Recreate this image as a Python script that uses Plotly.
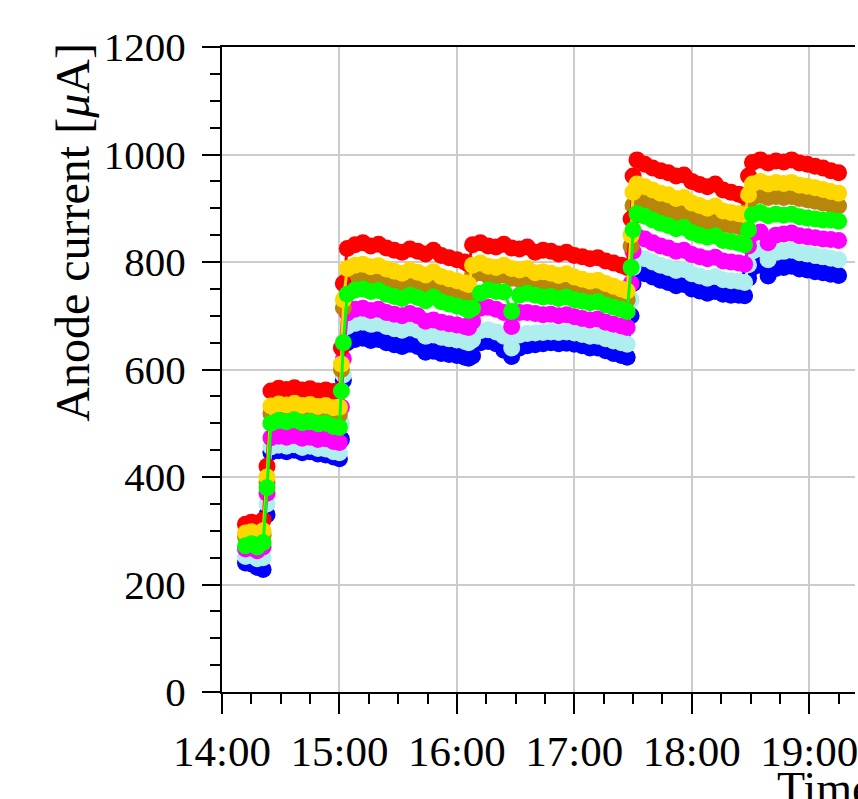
import pandas as pd
import plotly.graph_objects as go

# time of each sample, minutes after 14:00
minutes = [12, 15, 18, 21,
           23,
           25, 29, 33, 37, 41, 45, 49, 53, 57, 60,
           61, 62,
           64, 68, 72, 76, 80, 84, 88, 92, 96, 100, 104, 108, 112, 116, 120, 124, 126,
           128, 132, 136, 140, 144, 148, 152, 156, 160, 164, 168, 172, 176, 180, 184, 188, 192, 196, 200, 204, 207,
           209, 210,
           212, 216, 220, 224, 228, 232, 236, 240, 244, 248, 252, 256, 260, 264, 267,
           269,
           271, 275, 279, 283, 287, 291, 295, 299, 303, 307, 311, 315]

red = [312, 316, 314, 320,
       420,
       560, 565, 563, 566, 562, 564, 560, 562, 559, 561,
       640, 760,
       825, 832, 836, 830, 833, 826, 822, 818, 824, 820, 815, 822, 812, 808, 804, 800, 796,
       832, 836, 830, 828, 833, 826, 824, 828, 818, 822, 820, 815, 818, 812, 810, 806, 808, 802, 798, 794, 790,
       880, 960,
       990, 982, 975, 970, 966, 960, 962, 950, 944, 940, 945, 934, 930, 926, 922,
       960,
       985, 990, 984, 988, 986, 990, 984, 982, 978, 975, 970, 966]

gold = [296, 298, 295, 300,
        400,
        532, 536, 534, 537, 533, 535, 531, 533, 529, 530,
        610, 730,
        788, 794, 796, 791, 793, 787, 783, 779, 785, 781, 776, 782, 773, 769, 765, 761, 758,
        794, 798, 792, 790, 794, 788, 785, 788, 780, 782, 779, 775, 778, 772, 768, 764, 766, 760, 755, 750, 746,
        850, 930,
        945, 940, 934, 928, 925, 918, 920, 910, 905, 900, 904, 895, 892, 890, 888,
        925,
        945, 950, 945, 948, 946, 948, 943, 941, 938, 935, 931, 928]

goldenrod = [289, 291, 288, 292,
             390,
             518, 522, 520, 523, 519, 521, 517, 519, 515, 516,
             600, 715,
             768, 774, 776, 771, 773, 767, 763, 760, 765, 761, 756, 762, 753, 749, 745, 741, 738,
             776, 780, 774, 772, 776, 770, 767, 770, 762, 764, 760, 757, 760, 754, 750, 746, 748, 742, 738, 734, 730,
             830, 905,
             918, 912, 906, 900, 897, 891, 893, 884, 879, 875, 878, 870, 868, 866, 864,
             900,
             920, 924, 920, 922, 920, 922, 918, 916, 913, 910, 907, 904]

green = [272, 276, 270, 278,
         380,
         500, 505, 503, 506, 501, 503, 499, 500, 494, 492,
         560, 650,
         740, 748, 750, 745, 747, 740, 736, 732, 738, 734, 728, 735, 726, 722, 718, 714, 710,
         714, 742, 748, 745, 744, 708, 738, 742, 738, 735, 736, 732, 735, 730, 727, 724, 726, 720, 716, 712, 708,
         790, 860,
         890, 885, 878, 872, 868, 862, 864, 855, 850, 846, 849, 840, 838, 835, 832,
         860,
         888, 892, 886, 889, 887, 889, 884, 882, 880, 878, 878, 876]

magenta = [266, 268, 263, 270,
           370,
           473, 476, 474, 477, 472, 474, 470, 471, 466, 464,
           530, 620,
           705, 712, 714, 710, 712, 706, 703, 700, 704, 700, 690, 692, 688, 685, 683, 680, 678,
           690, 714, 716, 712, 706, 680, 706, 706, 704, 702, 703, 700, 702, 698, 695, 692, 694, 688, 684, 681, 678,
           760, 820,
           848, 843, 836, 830, 826, 820, 822, 814, 810, 806, 809, 802, 800, 798, 796,
           830,
           852, 856, 836, 850, 852, 854, 849, 847, 845, 843, 842, 840]

cyan = [252, 254, 248, 250,
        350,
        456, 459, 457, 460, 455, 457, 453, 452, 447, 445,
        500, 590,
        680, 686, 688, 684, 686, 680, 676, 673, 677, 673, 662, 664, 660, 657, 655, 652, 650,
        655, 672, 674, 670, 662, 640, 664, 667, 668, 669, 670, 669, 670, 668, 665, 662, 662, 657, 653, 650, 647,
        730, 790,
        810, 806, 800, 794, 790, 784, 786, 778, 774, 770, 773, 767, 765, 764, 762,
        795,
        820, 824, 804, 818, 820, 822, 817, 815, 812, 810, 807, 804]

blue = [240, 238, 232, 228,
        330,
        446, 449, 447, 450, 445, 447, 443, 441, 437, 434,
        470, 580,
        650, 656, 658, 654, 656, 650, 646, 643, 647, 643, 632, 634, 630, 628, 626, 623, 621,
        625, 650, 652, 648, 636, 624, 640, 644, 646, 648, 650, 648, 649, 647, 644, 640, 640, 635, 630, 626, 623,
        700, 760,
        782, 778, 772, 766, 762, 756, 758, 750, 746, 742, 745, 740, 738, 738, 737,
        770,
        790, 794, 774, 788, 790, 792, 787, 785, 782, 780, 777, 775]

tick_hours = ["14:00", "15:00", "16:00", "17:00", "18:00", "19:00"]
y_ticks = [0, 200, 400, 600, 800, 1000, 1200]

base = pd.Timestamp("2020-01-01 14:00")
times = [base + pd.Timedelta(minutes=m) for m in minutes]
tick_vals = [pd.Timestamp("2020-01-01 " + h) for h in tick_hours]

series = [
    ("blue", "#0000ff", blue),
    ("cyan", "#afeeee", cyan),
    ("magenta", "#ff00ff", magenta),
    ("goldenrod", "#b8860b", goldenrod),
    ("red", "#ff0000", red),
    ("gold", "#ffd700", gold),
    ("green", "#00ff00", green),
]

fig = go.Figure()
for name, color, vals in series:
    fig.add_trace(go.Scatter(
        x=times, y=vals, mode="lines+markers", name=name,
        line=dict(color=color, width=3),
        marker=dict(color=color, size=17, line=dict(width=0)),
        showlegend=False,
    ))

FONT = "Liberation Serif, Times New Roman, serif"
x_end = base + pd.Timedelta(minutes=(858 - 222) / 118 * 60)

fig.update_layout(
    width=858, height=799,
    margin=dict(l=222, r=0, t=47, b=107),
    paper_bgcolor="white", plot_bgcolor="white",
    font=dict(family=FONT, size=40, color="black"),
    xaxis=dict(
        type="date", range=[base, x_end],
        tickvals=tick_vals, ticktext=tick_hours,
        showgrid=True, gridcolor="#cccccc", gridwidth=1.5,
        showline=True, linecolor="black", linewidth=2, mirror=True,
        ticks="outside", ticklen=20, tickwidth=2, tickcolor="black",
        minor=dict(dtick=15 * 60 * 1000, ticks="outside", ticklen=10,
                   tickwidth=1.5, tickcolor="black", showgrid=False),
        zeroline=False, ticklabeloverflow="allow",
        tickfont=dict(family=FONT, size=43),
    ),
    yaxis=dict(
        range=[0, 1200], tickvals=y_ticks,
        showgrid=True, gridcolor="#cccccc", gridwidth=1.5,
        showline=True, linecolor="black", linewidth=2, mirror=False,
        ticks="outside", ticklen=18, tickwidth=2, tickcolor="black",
        minor=dict(dtick=50, ticks="outside", ticklen=10,
                   tickwidth=1.5, tickcolor="black", showgrid=False),
        zeroline=False, ticklabelstandoff=8,
        tickfont=dict(family=FONT, size=41),
    ),
    annotations=[
        dict(text="Anode current [<i>μ</i>A]", textangle=-90,
             xref="paper", yref="paper",
             x=(72 - 222) / 636, y=(692 - 232) / 645,
             xanchor="center", yanchor="middle", showarrow=False,
             font=dict(family=FONT, size=48, color="black")),
        dict(text="Time", xref="paper", yref="paper",
             x=(778 - 222) / 636, y=(692 - 788) / 645,
             xanchor="left", yanchor="middle", showarrow=False,
             font=dict(family=FONT, size=46, color="black")),
    ],
)

fig.write_html("out.html")
